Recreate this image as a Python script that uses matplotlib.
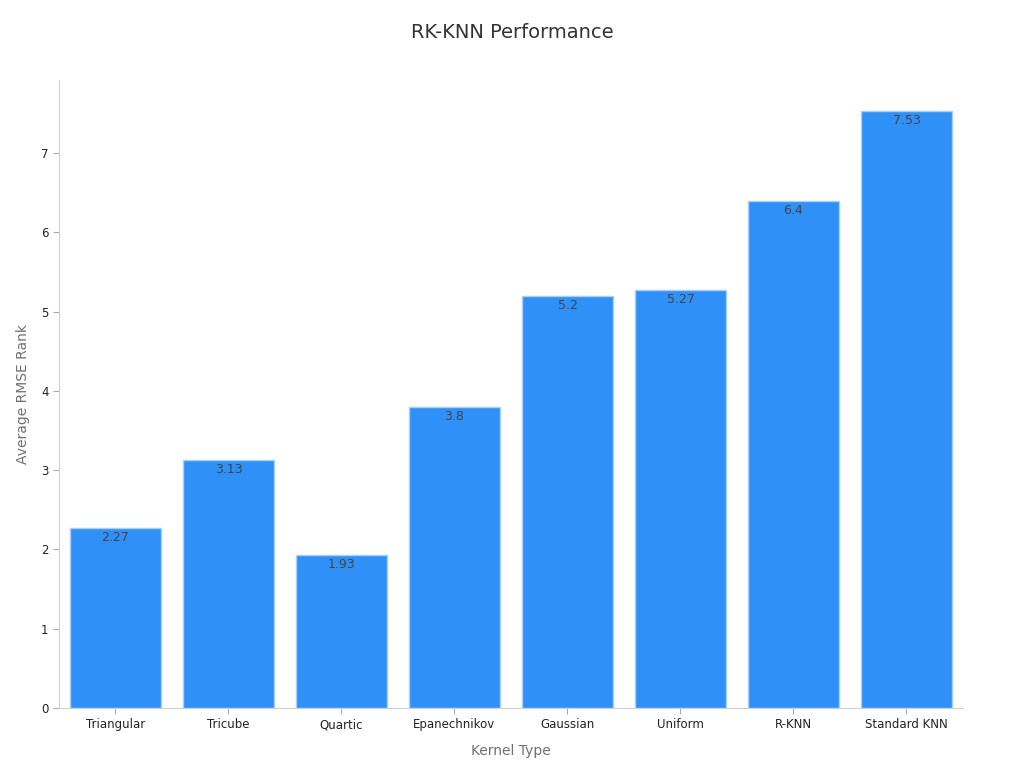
import matplotlib
matplotlib.use("Agg")
import matplotlib.pyplot as plt

kernels = ["Triangular", "Tricube", "Quartic", "Epanechnikov", "Gaussian",
           "Uniform", "R-KNN", "Standard KNN"]
avg_rank = [2.27, 3.13, 1.93, 3.8, 5.2, 5.27, 6.4, 7.53]
rank_labels = ["2.27", "3.13", "1.93", "3.8", "5.2", "5.27", "6.4", "7.53"]

fig = plt.figure(figsize=(10.24, 7.68), dpi=100)
ax = fig.add_axes([0.0576, 0.0781, 0.8828, 0.8177])

x = range(len(kernels))
bars = ax.bar(x, avg_rank, width=0.8, color="#2f91f8", edgecolor="#a8d0fb", linewidth=1)

for b, lab in zip(bars, rank_labels):
    ax.text(b.get_x() + b.get_width() / 2, b.get_height() - 0.04, lab,
            ha="center", va="top", fontsize=9, color="#444444")

ax.set_xlim(-0.5, 7.5)
ax.set_ylim(0, 7.92)
ax.set_xticks(list(x))
ax.set_xticklabels(kernels, fontsize=8.5, color="#222222")
ax.set_yticks(range(8))
ax.tick_params(axis="y", labelsize=8.5, colors="#222222", length=4, color="#aaaaaa")
ax.tick_params(axis="x", length=4, color="#aaaaaa")

for side in ("top", "right"):
    ax.spines[side].set_visible(False)
for side in ("left", "bottom"):
    ax.spines[side].set_color("#d0d0d0")

ax.set_xlabel("Kernel Type", fontsize=10, color="#707070", labelpad=9)
ax.set_ylabel("Average RMSE Rank", fontsize=10, color="#707070", labelpad=8)
fig.suptitle("RK-KNN Performance", fontsize=14, color="#333333", y=0.97)

fig.savefig("out.png", dpi=100)
